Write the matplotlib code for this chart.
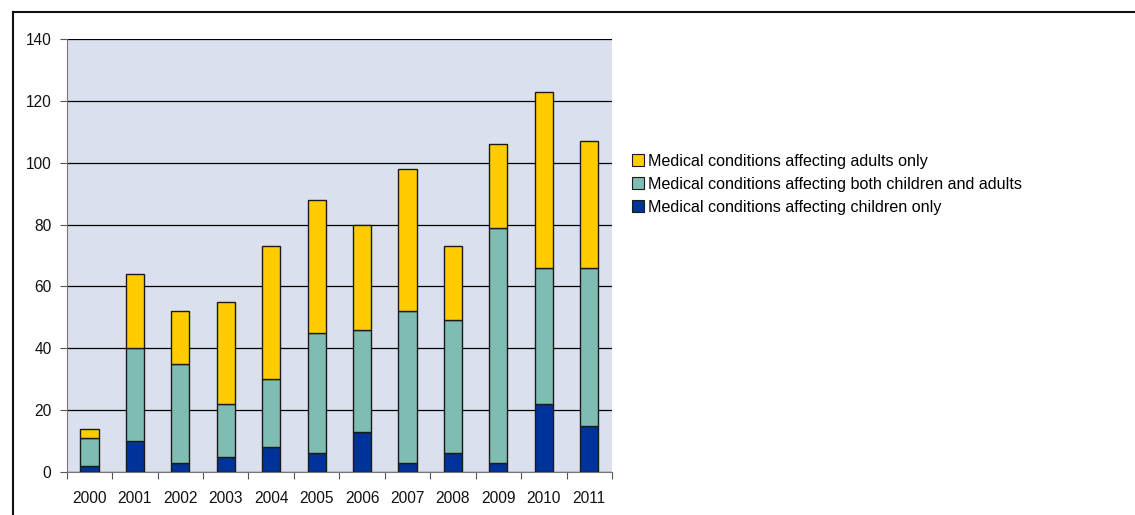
import matplotlib
matplotlib.use("Agg")
import matplotlib.pyplot as plt
import numpy as np
from matplotlib.lines import Line2D

plt.rcParams['font.family'] = ['Liberation Sans', 'DejaVu Sans']

years = ['2000', '2001', '2002', '2003', '2004', '2005', '2006',
         '2007', '2008', '2009', '2010', '2011']
children_only = [2, 10, 3, 5, 8, 6, 13, 3, 6, 3, 22, 15]
both = [9, 30, 32, 17, 22, 39, 33, 49, 43, 76, 44, 51]
adults_only = [3, 24, 17, 33, 43, 43, 34, 46, 24, 27, 57, 41]

labels = ['Medical conditions affecting adults only',
          'Medical conditions affecting both children and adults',
          'Medical conditions affecting children only']
colors = {'adults': '#FFCC00', 'both': '#7FBCB2', 'children': '#003399'}

fig = plt.figure(figsize=(11.35, 5.15), dpi=100)
W, H = 1135, 515
ax = fig.add_axes([66.7 / W, 1 - 472 / H, (612 - 66.7) / W, (472 - 39) / H])
ax.set_facecolor('#DAE0EE')

x = np.arange(len(years))
bw = 0.4
edge = dict(edgecolor='#1a1a1a', linewidth=1.0, zorder=3)
ch = np.array(children_only)
bo = np.array(both)
ad = np.array(adults_only)
ax.bar(x, ch, bw, color=colors['children'], **edge)
ax.bar(x, bo, bw, bottom=ch, color=colors['both'], **edge)
ax.bar(x, ad, bw, bottom=ch + bo, color=colors['adults'], **edge)

ax.set_xlim(-0.5, len(years) - 0.5)
ax.set_ylim(0, 140)
ax.set_yticks(range(0, 141, 20))
ax.yaxis.grid(True, color='#000000', linewidth=0.9, zorder=1)
ax.set_axisbelow(True)

ax.set_xticks(np.arange(-0.5, len(years), 1.0))
ax.set_xticklabels([])
ax.set_xticks(x, minor=True)
ax.set_xticklabels(years, minor=True)
ax.tick_params(axis='x', which='major', direction='out', length=5, color='#555555')
ax.tick_params(axis='x', which='minor', length=0, pad=14, labelsize=11.2, labelcolor='#111111')
ax.tick_params(axis='y', direction='out', length=5, color='#555555',
               labelsize=11.2, labelcolor='#111111', pad=6)

for s in ['top', 'right']:
    ax.spines[s].set_visible(False)
ax.spines['left'].set_color('#777777')
ax.spines['bottom'].set_color('#777777')

handles = [Line2D([], [], marker='s', linestyle='none', markersize=8.5,
                  markerfacecolor=c, markeredgecolor='#1a1a1a', markeredgewidth=0.8)
           for c in [colors['adults'], colors['both'], colors['children']]]
fig.legend(handles, labels, loc='upper left', bbox_to_anchor=(632 / W, 1 - 154 / H),
           frameon=False, fontsize=11.6, handlelength=0.7, handletextpad=0.3,
           labelspacing=0.5, borderpad=0, borderaxespad=0)

# page frame around the chart
fig.add_artist(Line2D([12.5 / W, 12.5 / W], [0, 1 - 12 / H], transform=fig.transFigure,
                      color='#111111', linewidth=1.5))
fig.add_artist(Line2D([12.5 / W, 1], [1 - 12 / H, 1 - 12 / H], transform=fig.transFigure,
                      color='#111111', linewidth=1.5))

fig.savefig('out.png', dpi=100)
